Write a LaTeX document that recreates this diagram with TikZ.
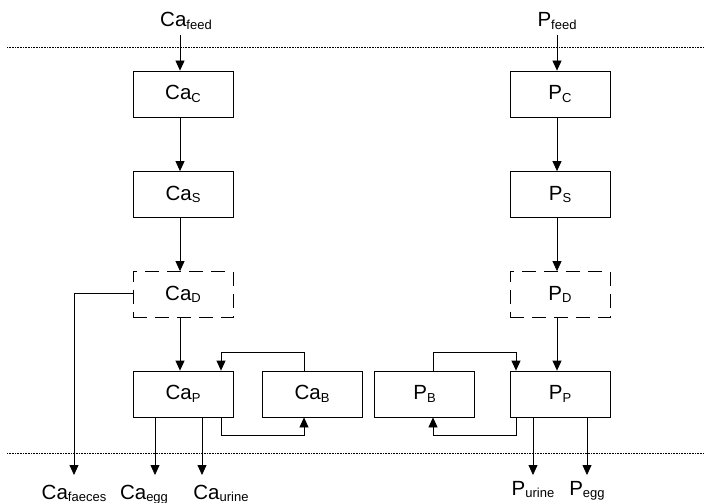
\documentclass[tikz,border=0pt]{standalone}
\usepackage{fontspec}
\setmainfont{Liberation Sans}
\usetikzlibrary{arrows.meta,calc}
\newcommand{\sbs}[1]{\raisebox{-2.5pt}{\fontsize{13}{13}\selectfont #1}}
\begin{document}
\begin{tikzpicture}[x=1pt,y=-1pt,
  every node/.style={font=\fontsize{20.5}{22}\selectfont, inner sep=0pt},
  pool/.style={draw, line width=0.8pt, minimum width=100pt, minimum height=46pt},
  dpool/.style={pool, dash pattern=on 14pt off 8pt},
  arr/.style={line width=0.8pt, -{Triangle[length=10pt,width=9pt]}},
  sep/.style={line width=0.8pt, dash pattern=on 0.8pt off 0.8pt}]
\useasboundingbox (0,0) rectangle (704,503);
% separators
\draw[sep] (7,47) -- (704,47);
\draw[sep] (7,453) -- (704,453);
% Ca column
\node[pool] (cac) at (183,94) {Ca\sbs{C}};
\node[pool] (cas) at (183,194.5) {Ca\sbs{S}};
\node[dpool] (cad) at (183,294.5) {Ca\sbs{D}};
\node[pool] (cap) at (183,394) {Ca\sbs{P}};
\node[pool] (cab) at (312,394) {Ca\sbs{B}};
% P column
\node[pool] (pc) at (560,94) {P\sbs{C}};
\node[pool] (ps) at (560,194.5) {P\sbs{S}};
\node[dpool] (pd) at (560,294.5) {P\sbs{D}};
\node[pool] (pp) at (560,394) {P\sbs{P}};
\node[pool] (pb) at (424.5,394) {P\sbs{B}};
% labels
\node[anchor=base] (cafeed) at (186,27) {Ca\sbs{feed}};
\node[anchor=base] (pfeed) at (557,27) {P\sbs{feed}};
\node[anchor=base] (cafaec) at (74,499) {Ca\sbs{faeces}};
\node[anchor=base] (caegg) at (144,499) {Ca\sbs{egg}};
\node[anchor=base] (caur) at (221,499) {Ca\sbs{urine}};
\node[anchor=base] (pur) at (533,495) {P\sbs{urine}};
\node[anchor=base] (pegg) at (587,495) {P\sbs{egg}};
\coordinate (bot) at (0,475);
\coordinate (fx) at (74,0);
% feed arrows
\draw[arr] ([xshift=-3pt]cac.north |- 0,35) -- ([xshift=-3pt]cac.north);
\draw[arr] ([xshift=-3pt]pc.north |- 0,35) -- ([xshift=-3pt]pc.north);
% vertical chains
\draw[arr] ([xshift=-3pt]cac.south) -- ([xshift=-3pt]cas.north);
\draw[arr] ([xshift=-3pt]cas.south) -- ([xshift=-3pt]cad.north);
\draw[arr] ([xshift=-3pt]cad.south) -- ([xshift=-3pt]cap.north);
\draw[arr] ([xshift=-3pt]pc.south) -- ([xshift=-3pt]ps.north);
\draw[arr] ([xshift=-3pt]ps.south) -- ([xshift=-3pt]pd.north);
\draw[arr] ([xshift=-3pt]pd.south) -- ([xshift=-3pt]pp.north);
% exchange loops
\draw[arr] ([xshift=-8pt]cab.north) -- ++(0,-18) -| ([xshift=38pt]cap.north);
\draw[arr] ([xshift=38pt]cap.south) -- ++(0,18) -| ([xshift=-8pt]cab.south);
\draw[arr] ([xshift=8.5pt]pb.north) -- ++(0,-18) -| ([xshift=-44pt]pp.north);
\draw[arr] ([xshift=-44pt]pp.south) -- ++(0,18) -| ([xshift=8.5pt]pb.south);
% outputs
\draw[arr] (cad.west |- 0,293) -| (fx |- bot);
\draw[arr] ([xshift=-28pt]cap.south) -- ([xshift=-28pt]cap.south |- bot);
\draw[arr] ([xshift=19pt]cap.south) -- ([xshift=19pt]cap.south |- bot);
\draw[arr] ([xshift=-27pt]pp.south) -- ([xshift=-27pt]pp.south |- bot);
\draw[arr] ([xshift=27pt]pp.south) -- ([xshift=27pt]pp.south |- bot);
\end{tikzpicture}
\end{document}
